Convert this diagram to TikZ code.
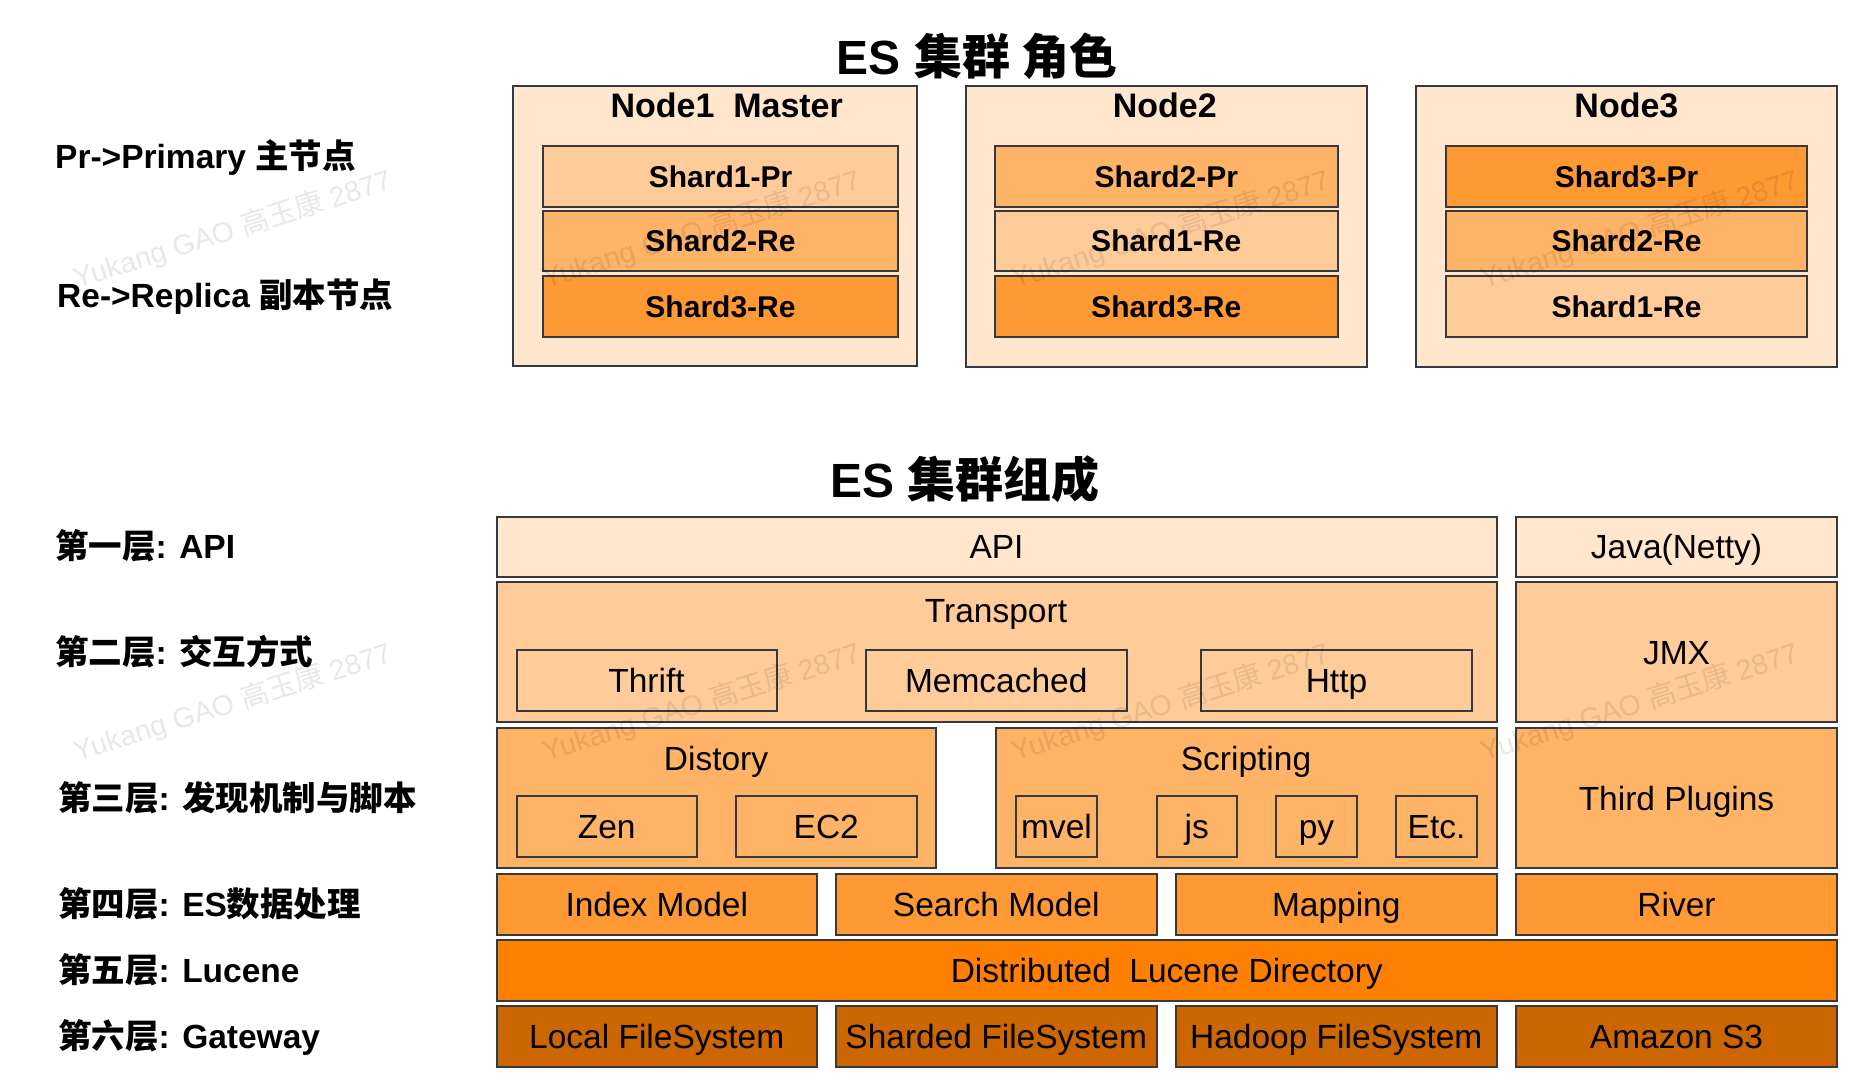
\documentclass[tikz,border=0pt]{standalone}
\usepackage{fontspec}
\setmainfont{Liberation Sans}
\newfontfamily\cjk{Noto Sans CJK SC}
\definecolor{c0}{HTML}{FFE6CC}
\definecolor{c1}{HTML}{FFCC99}
\definecolor{c2}{HTML}{FFB366}
\definecolor{c3}{HTML}{FF9933}
\definecolor{c4}{HTML}{FF8000}
\definecolor{c5}{HTML}{CC6600}
\definecolor{bd}{HTML}{36393D}
\tikzset{
  box/.style={draw=bd, line width=2pt, rectangle, inner sep=0pt, outer sep=0pt,
    font=\fontsize{33.5}{40}\selectfont, text height=24pt, text depth=0pt},
  shardbox/.style={font=\bfseries\fontsize{30}{36}\selectfont, text height=21.5pt},
  boxtitle/.style={anchor=base, inner sep=0pt, font=\fontsize{33.5}{40}\selectfont},
  nodetitle/.style={anchor=base, inner sep=0pt, font=\bfseries\fontsize{34}{40}\selectfont},
  lbl/.style={anchor=base west, inner sep=0pt, font=\bfseries\fontsize{33.5}{40}\selectfont},
  maintitle/.style={anchor=base, inner sep=0pt, font=\bfseries\fontsize{48}{56}\selectfont},
  wm/.style={inner sep=0pt, rotate=17.5, text=black, text opacity=0.09,
    font=\fontsize{28.5}{32}\selectfont},
}
\newcommand\mybox[8][]{%
  \node[box, #1, fill=#7, minimum width={(#5-#3)*1pt}, minimum height={(#6-#4)*1pt}]
    (#2) at ({(#3+#5)/2},{(#4+#6)/2}) {#8};}
\begin{document}
\begin{tikzpicture}[x=1pt, y=-1pt]
\fill[white] (0,0) rectangle (1854,1084);
\useasboundingbox (0,0) rectangle (1854,1084);

% titles
\node[maintitle] (t1) at (977,74) {ES {\cjk 集群 角色}};
\node[maintitle] (t2) at (965,497.5) {ES {\cjk 集群组成}};

% left labels
\node[lbl] (l1) at (55,168) {Pr->Primary {\cjk 主节点}};
\node[lbl] (l2) at (57,307) {Re->Replica {\cjk 副本节点}};
\node[lbl] (l3) at (55,558) {{\cjk 第一层}: API};
\node[lbl] (l4) at (55,664) {{\cjk 第二层}: {\cjk 交互方式}};
\node[lbl] (l5) at (58,810) {{\cjk 第三层}: {\cjk 发现机制与脚本}};
\node[lbl] (l6) at (58,916) {{\cjk 第四层}: ES{\cjk 数据处理}};
\node[lbl] (l7) at (58,982) {{\cjk 第五层}: Lucene};
\node[lbl] (l8) at (58,1048) {{\cjk 第六层}: Gateway};

% top: nodes and shards
\mybox{n1}{513}{86}{917}{366}{c0}{}
\mybox{n2}{966}{86}{1367}{367}{c0}{}
\mybox{n3}{1416}{86}{1837}{367}{c0}{}
\node[nodetitle] (n1t) at (726.7,117) {Node1\ \ Master};
\node[nodetitle] (n2t) at (1164.7,117) {Node2};
\node[nodetitle] (n3t) at (1626.4,117) {Node3};

\mybox[shardbox]{s11}{543}{146}{898}{206.5}{c1}{Shard1-Pr}
\mybox[shardbox]{s12}{543}{210.5}{898}{270.5}{c2}{Shard2-Re}
\mybox[shardbox]{s13}{543}{276}{898}{336.5}{c3}{Shard3-Re}
\mybox[shardbox]{s21}{995}{146}{1337.5}{206.5}{c2}{Shard2-Pr}
\mybox[shardbox]{s22}{995}{210.5}{1337.5}{270.5}{c1}{Shard1-Re}
\mybox[shardbox]{s23}{995}{276}{1337.5}{336.5}{c3}{Shard3-Re}
\mybox[shardbox]{s31}{1446}{146}{1807}{206.5}{c3}{Shard3-Pr}
\mybox[shardbox]{s32}{1446}{210.5}{1807}{270.5}{c2}{Shard2-Re}
\mybox[shardbox]{s33}{1446}{276}{1807}{336.5}{c1}{Shard1-Re}

% bottom: layers
\mybox{api}{496.5}{516.5}{1496.5}{576.5}{c0}{API}
\mybox{java}{1516}{516.5}{1837}{576.5}{c0}{Java(Netty)}
\mybox{transport}{496.5}{582}{1496.5}{722}{c1}{}
\node[boxtitle] (transportt) at (996,622.7) {Transport};
\mybox{jmx}{1516}{582}{1837}{722}{c1}{JMX}
\mybox{thrift}{516.5}{650}{776.5}{710.5}{c1}{Thrift}
\mybox{memcached}{866}{650}{1126.5}{710.5}{c1}{Memcached}
\mybox{http}{1201}{650}{1472}{710.5}{c1}{Http}

\mybox{distory}{496.5}{728}{936}{868}{c2}{}
\node[boxtitle] (distoryt) at (716,770) {Distory};
\mybox{scripting}{996}{728}{1496.5}{868}{c2}{}
\node[boxtitle] (scriptingt) at (1246,770) {Scripting};
\mybox{third}{1516}{728}{1837}{868}{c2}{Third Plugins}
\mybox{zen}{516.5}{796}{697}{856.5}{c2}{Zen}
\mybox{ec2}{736}{796}{916.5}{856.5}{c2}{EC2}
\mybox{mvel}{1016}{796}{1097}{856.5}{c2}{mvel}
\mybox{js}{1156.5}{796}{1237}{856.5}{c2}{js}
\mybox{py}{1276}{796}{1357}{856.5}{c2}{py}
\mybox{etc}{1396}{796}{1477}{856.5}{c2}{Etc.}

\mybox{index}{496.5}{874}{817}{934.5}{c3}{Index Model}
\mybox{search}{836}{874}{1156.5}{934.5}{c3}{Search Model}
\mybox{mapping}{1176}{874}{1496.5}{934.5}{c3}{Mapping}
\mybox{river}{1516}{874}{1837}{934.5}{c3}{River}

\mybox{lucene}{496.5}{940}{1837}{1000.5}{c4}{Distributed\ \ Lucene Directory}

\mybox{localfs}{496.5}{1006}{817}{1066.5}{c5}{Local FileSystem}
\mybox{shardedfs}{836}{1006}{1156.5}{1066.5}{c5}{Sharded FileSystem}
\mybox{hadoopfs}{1176}{1006}{1496.5}{1066.5}{c5}{Hadoop FileSystem}
\mybox{amazon}{1516}{1006}{1837}{1066.5}{c5}{Amazon S3}

% watermarks
\foreach \i in {0,1,2,3}{
  \foreach \j in {0,1}{
    \node[wm] (wm\i\j) at ({233+469*\i},{230+473*\j}) {Yukang GAO {\cjk 高玉康} 2877};
  }
}
\end{tikzpicture}
\end{document}
